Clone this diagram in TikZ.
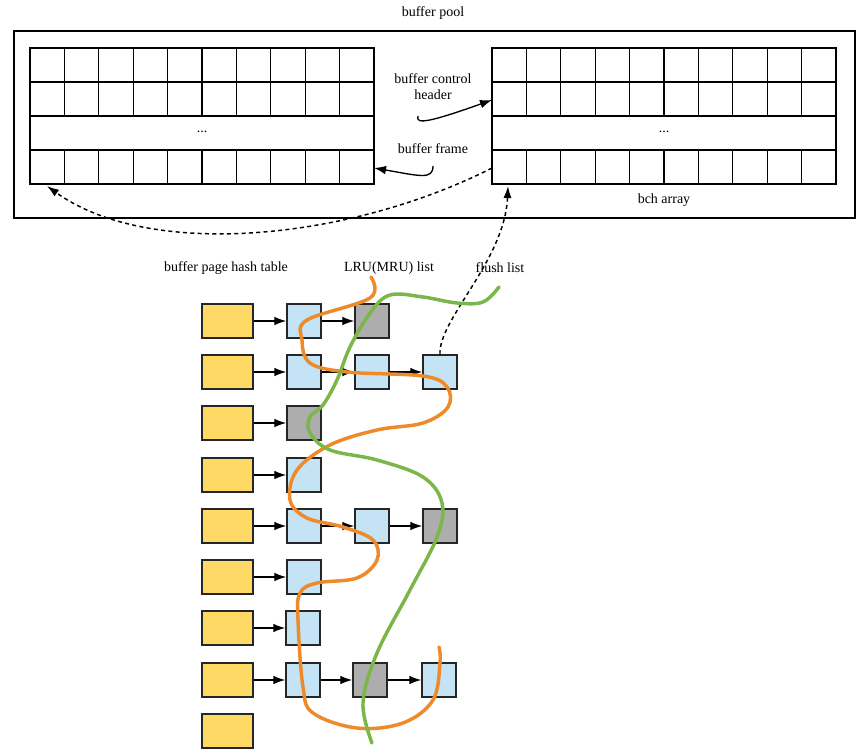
\documentclass[tikz,border=0pt]{standalone}
\usepackage{fontspec}
\setmainfont{Liberation Serif}
\usetikzlibrary{arrows.meta}
\definecolor{lorange}{HTML}{EE8A2A}
\definecolor{lgreen}{HTML}{7AB648}
\definecolor{lyellow}{HTML}{FFD966}
\definecolor{lblue}{HTML}{C4E3F5}
\begin{document}
\begin{tikzpicture}[x=0.75pt,y=-0.75pt,font=\fontsize{10.5}{12}\selectfont,
 cell/.style={draw,line width=1pt},
 hb/.style={draw=black!85,line width=1.1pt,fill=lyellow,minimum width=38.25pt,minimum height=25.5pt,inner sep=0pt},
 bb/.style={draw=black!85,line width=1.1pt,fill=lblue,minimum width=25.5pt,minimum height=25.5pt,inner sep=0pt},
 gb/.style={bb,fill=black!32},
 ar/.style={-{Latex[length=9pt,width=6.5pt]},line width=1pt},
 da/.style={-{Latex[length=9pt,width=6pt]},dash pattern=on 3pt off 2.5pt,line width=1.1pt},
 lbl/.style={align=center,inner sep=1pt}]
\useasboundingbox (0,0) rectangle (864,752);
\draw[line width=1.3pt] (14,31) rectangle (855,218);
% grids
\foreach \gx in {30,492}{
  \draw[cell] (\gx,48) rectangle ++(344,136);
  \foreach \y in {82,116,150} \draw[cell] (\gx,\y) -- ++(344,0);
  \foreach \i in {1,...,9}{
    \draw[cell] ({\gx+\i*34.4},48) -- ({\gx+\i*34.4},116);
    \draw[cell] ({\gx+\i*34.4},150) -- ({\gx+\i*34.4},184);}
}
\node (d1) at (202,132) {...};
\node (d2) at (664,132) {...};
\node[lbl] (pool) at (433,13) {buffer pool};
\node[lbl] (bch) at (433,87) {buffer control\\header};
\node[lbl] (bfr) at (433,149) {buffer frame};
\node[lbl] (barr) at (664,200) {bch array};
\node[lbl] (hl) at (226,268) {buffer page hash table};
\node[lbl] (ll) at (389,268) {LRU(MRU) list};
\node[lbl] (fl) at (500,268) {flush list};
\coordinate (bchs) at (418,116);
\coordinate (bche) at (492,100);
\coordinate (bfs) at (433,166);
\coordinate (bfe) at (374,168);
\coordinate (rs) at (492,168);
\coordinate (le) at (47,186);
\coordinate (re) at (508,186);
\draw[ar] (bchs) .. controls (415,125) and (430,122) .. (bche);
\draw[ar] (bfs) .. controls (433,180) and (420,176) .. (bfe);
\draw[da] (rs) .. controls (350,240) and (150,260) .. (le);
% list
\foreach \r/\y in {1/321,2/372,3/423,4/475,5/526,6/577,7/628,8/680,9/731}
  \node[hb] (h\r) at (227.5,\y) {};
\node[bb] (a1) at (304,321) {}; \node[gb] (b1) at (372,321) {};
\node[bb] (a2) at (304,372) {}; \node[bb] (b2) at (372,372) {}; \node[bb] (c2) at (440,372) {};
\node[gb] (a3) at (304,423) {};
\node[bb] (a4) at (304,475) {};
\node[bb] (a5) at (304,526) {}; \node[bb] (b5) at (372,526) {}; \node[gb] (c5) at (440,526) {};
\node[bb] (a6) at (304,577) {};
\node[bb] (a7) at (303,628) {};
\node[bb] (a8) at (303,680) {}; \node[gb] (b8) at (370,680) {}; \node[bb] (c8) at (439,680) {};
\foreach \r in {1,...,8} \draw[ar] (h\r) -- (a\r);
\foreach \a/\b in {a1/b1,a2/b2,b2/c2,a5/b5,b5/c5,a8/b8,b8/c8} \draw[ar] (\a) -- (\b);
\draw[da] (c2.north) .. controls (438,320) and (505,260) .. (re);
\draw[lorange,line width=2.6pt,line cap=round] plot[smooth,tension=0.6] coordinates {
(371,277)(370,298)(307,320)(302,340)(310,363)(347,372)(423,376)(447,387)(448,407)(423,423)(377,430)(330,445)(297,470)(290,500)(307,518)(343,527)(373,540)(377,560)(357,578)(317,583)(300,593)(298,620)(303,687)(313,713)(357,728)(403,723)(433,700)(440,663)(439,647)};
\draw[lgreen,line width=2.6pt,line cap=round] plot[smooth,tension=0.6] coordinates {
(499,287)(483,302)(457,303)(423,297)(390,295)(370,313)(350,347)(337,380)(323,405)(310,417)(310,433)(330,450)(377,460)(423,477)(442,503)(437,537)(410,590)(377,653)(363,703)(372,743)};
\end{tikzpicture}
\end{document}
